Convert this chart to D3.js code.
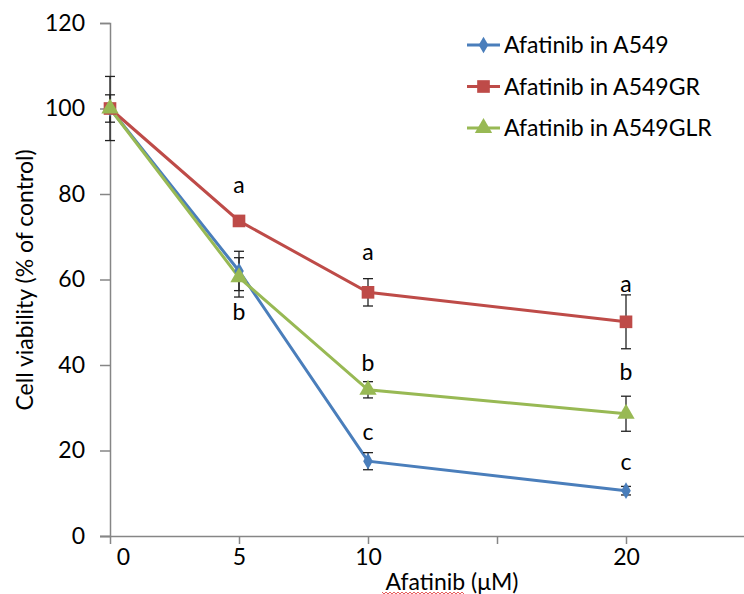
<!DOCTYPE html>
<html>
<head>
<meta charset="utf-8">
<script src="https://cdn.jsdelivr.net/npm/d3@7"></script>
<style>
  body { margin: 0; background: #fff; }
  text { font-family: Lato, "Open Sans", sans-serif; fill: #000; }
</style>
</head>
<body>
<div id="vis-holder"></div>
<script>
// Data
const doses = [0, 5, 10, 20];
const seriesNames = ["Afatinib in A549", "Afatinib in A549GR", "Afatinib in A549GLR"];
const a549 = [100, 62, 17.5, 10.6];
const a549Err = [7.5, 4.6, 2.0, 1.0];
const a549gr = [100, 73.7, 57, 50.1];
const a549grErr = [0.5, 0.5, 3.2, 6.3];
const a549glr = [100, 60.5, 34.2, 28.6];
const a549glrErr = [3.2, 4.6, 1.9, 4.1];
const yTicks = [0, 20, 40, 60, 80, 100, 120];
const xTicks = [0, 5, 10, 15, 20, 25];
const xTickLabels = ["0", "5", "10", "", "20", ""];
// significance letters (dose, level on the y scale where the letter sits)
const letterDoses = [5, 5, 10, 10, 10, 20, 20, 20];
const letterLevels = [81.9, 52.2, 66.2, 40.2, 24.1, 58.7, 38.1, 17.1];
const letterTexts = ["a", "b", "a", "b", "c", "a", "b", "c"];

const width = 744, height = 594;
const margin = { top: 23, right: -11, bottom: 58, left: 110 };
const fontSize = "23px";

const svg = d3.select("#vis-holder")
  .append("svg")
  .attr("width", width)
  .attr("height", height);

const x = d3.scaleLinear()
  .domain([0, 25])
  .range([margin.left, width - margin.right]);

const y = d3.scaleLinear()
  .domain([0, 120])
  .range([height - margin.bottom, margin.top]);

const axisColor = "#868686";

// Y axis
svg.append("g")
  .attr("transform", `translate(${margin.left},0)`)
  .call(d3.axisLeft(y).tickValues(yTicks).tickSize(10).tickPadding(15))
  .call(g => g.select(".domain").attr("stroke", axisColor).attr("stroke-width", 1.5))
  .call(g => g.selectAll(".tick line").attr("stroke", axisColor).attr("stroke-width", 1.5))
  .call(g => g.selectAll(".tick text").attr("font-size", fontSize).attr("fill", "#000")
    .style("font-family", "Lato, sans-serif"));

// X axis
svg.append("g")
  .attr("transform", `translate(0,${height - margin.bottom})`)
  .call(d3.axisBottom(x).tickValues(xTicks).tickSize(8).tickPadding(5)
    .tickFormat((d, i) => xTickLabels[i]))
  .call(g => g.select(".domain").attr("stroke", axisColor).attr("stroke-width", 1.5)
    .attr("d", `M${margin.left - 10},0.5H${width - margin.right}`))
  .call(g => g.selectAll(".tick line").attr("stroke", axisColor).attr("stroke-width", 1.5))
  .call(g => g.selectAll(".tick text").attr("font-size", fontSize).attr("fill", "#000")
    .style("font-family", "Lato, sans-serif")
    .attr("dx", d => d === 0 ? 13 : 0));

// Axis titles
svg.append("text")
  .attr("transform", `translate(33,280) rotate(-90)`)
  .attr("text-anchor", "middle")
  .attr("font-size", fontSize)
  .text("Cell viability (% of control)");

svg.append("text")
  .attr("x", 452)
  .attr("y", 590)
  .attr("text-anchor", "middle")
  .attr("font-size", fontSize)
  .text("Afatinib (μM)");

// spell-check squiggle under "Afatinib"
{
  let pts = [];
  for (let px = 382, k = 0; px <= 465; px += 2, k++) {
    pts.push([px, k % 2 === 0 ? 592 : 594]);
  }
  svg.append("path")
    .attr("d", d3.line()(pts))
    .attr("fill", "none")
    .attr("stroke", "#e03030")
    .attr("stroke-width", 0.8);
}

const series = [
  { name: seriesNames[0], values: a549, err: a549Err, color: "#4a7ebb", symbol: d3.symbolDiamond, size: 80 },
  { name: seriesNames[1], values: a549gr, err: a549grErr, color: "#be4b48", symbol: d3.symbolSquare, size: 160 },
  { name: seriesNames[2], values: a549glr, err: a549glrErr, color: "#98b954", symbol: d3.symbolTriangle, size: 130 }
];

const line = d3.line()
  .x((d, i) => x(doses[i]))
  .y(d => y(d));

// Lines
series.forEach(s => {
  svg.append("path")
    .datum(s.values)
    .attr("d", line)
    .attr("fill", "none")
    .attr("stroke", s.color)
    .attr("stroke-width", 3);
});

// Error bars
series.forEach(s => {
  const g = svg.append("g").attr("stroke", "#222").attr("stroke-width", 1.3);
  s.values.forEach((v, i) => {
    const cx = x(doses[i]);
    const y0 = y(v - s.err[i]), y1 = y(v + s.err[i]);
    g.append("line").attr("x1", cx).attr("x2", cx).attr("y1", y0).attr("y2", y1);
    g.append("line").attr("x1", cx - 5).attr("x2", cx + 5).attr("y1", y0).attr("y2", y0);
    g.append("line").attr("x1", cx - 5).attr("x2", cx + 5).attr("y1", y1).attr("y2", y1);
  });
});

// Markers
series.forEach(s => {
  svg.append("g")
    .selectAll("path")
    .data(s.values)
    .enter()
    .append("path")
    .attr("d", d3.symbol().type(s.symbol).size(s.size))
    .attr("transform", (d, i) => `translate(${x(doses[i])},${y(d)})`)
    .attr("fill", s.color);
});

// Letters
svg.append("g")
  .selectAll("text")
  .data(letterTexts)
  .enter()
  .append("text")
  .attr("x", (d, i) => x(letterDoses[i]))
  .attr("y", (d, i) => y(letterLevels[i]) + 7)
  .attr("text-anchor", "middle")
  .attr("font-size", fontSize)
  .text(d => d);

// Legend
const legend = svg.append("g").attr("transform", "translate(467,45)");
series.forEach((s, i) => {
  const row = legend.append("g").attr("transform", `translate(0,${i * 41.5})`);
  row.append("line")
    .attr("x1", 0).attr("x2", 33)
    .attr("stroke", s.color).attr("stroke-width", 3);
  row.append("path")
    .attr("d", d3.symbol().type(s.symbol).size(s.size))
    .attr("transform", "translate(16.5,0)")
    .attr("fill", s.color);
  row.append("text")
    .attr("x", 37)
    .attr("y", 8)
    .attr("font-size", fontSize)
    .text(s.name);
});
</script>
</body>
</html>
